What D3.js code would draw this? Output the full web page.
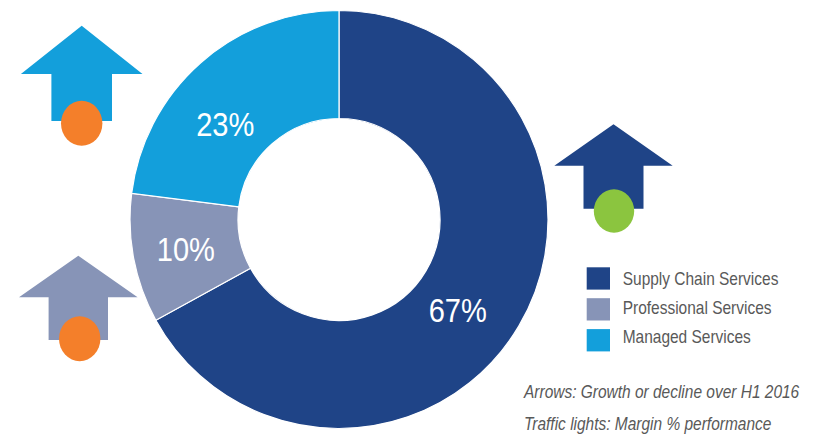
<!DOCTYPE html>
<html>
<head>
<meta charset="utf-8">
<script src="https://cdn.jsdelivr.net/npm/d3@7"></script>
<style>
  html, body { margin: 0; padding: 0; background: #fff; }
  svg { display: block; }
  text { font-family: "Liberation Sans", Arial, sans-serif; }
</style>
</head>
<body>
<svg id="chart" width="813" height="435"></svg>
<script>
// Revenue mix by division
const categories = ["Supply Chain Services", "Professional Services", "Managed Services"];
const shares = [67, 10, 23];
// Arrow direction (growth/decline over H1 2016) and margin traffic light per division
const trends = ["up", "up", "up"];
const marginLights = ["green", "amber", "amber"];
const notes = ["Arrows: Growth or decline over H1 2016", "Traffic lights: Margin % performance"];

const colors = ["#1F4487", "#8794B7", "#139FDB"];
const lightColors = { green: "#8BC53F", amber: "#F47F2A" };

const svg = d3.select("#chart");

// The typeface is a narrow grotesque: draw text horizontally condensed around its anchor
const SQUEEZE = 0.88;
const placeText = (x, y) => `translate(${x},${y}) scale(${SQUEEZE},1)`;

// ---- Doughnut ----
const cx = 339, cy = 219.5, rOuter = 209, rInner = 101;
const pie = d3.pie().sort(null).value(d => d.value);
const arc = d3.arc().innerRadius(rInner).outerRadius(rOuter);
const slices = pie(categories.map((c, i) => ({ name: c, value: shares[i], color: colors[i] })));

const donut = svg.append("g").attr("transform", `translate(${cx},${cy})`);
donut.selectAll("path.slice")
  .data(slices)
  .join("path")
  .attr("class", "slice")
  .attr("d", arc)
  .attr("fill", d => d.data.color)
  .attr("stroke", "#fff")
  .attr("stroke-width", 1.2);

// label nudges from the arc centroid, per slice
const labelNudge = [[-19, 9], [4, 0], [-8, 25]];
const labelArc = d3.arc().innerRadius(rInner + 1).outerRadius(rOuter + 9);
donut.selectAll("text.pct")
  .data(slices)
  .join("text")
  .attr("class", "pct")
  .attr("transform", (d, i) => {
    const c = labelArc.centroid(d);
    return placeText(c[0] + labelNudge[i][0], c[1] + labelNudge[i][1]);
  })
  .attr("dy", "0.36em")
  .attr("text-anchor", "middle")
  .attr("fill", "#fff")
  .attr("font-size", 33)
  .text(d => d.data.value + "%");

// ---- Trend arrows with traffic lights ----
// geometry per division: centre x, tip y, head base y, head half-width, shaft half-width, shaft bottom
const arrowLayout = [
  { x: 613.5, tip: 124.3, base: 165.7, head: 59.2, shaft: 30, bottom: 208.7, light: [614, 211, 20.2, 21.7] },
  { x: 78.3, tip: 255.7, base: 297.3, head: 59.3, shaft: 29.7, bottom: 340, light: [79.7, 338.7, 20.7, 22.5] },
  { x: 81.7, tip: 25.7, base: 74, head: 60.8, shaft: 30.3, bottom: 121, light: [81.7, 123.3, 20.7, 22.5] }
];

function arrowPath(a, dir) {
  const pts = [
    [a.x, a.tip],
    [a.x + a.head, a.base],
    [a.x + a.shaft, a.base],
    [a.x + a.shaft, a.bottom],
    [a.x - a.shaft, a.bottom],
    [a.x - a.shaft, a.base],
    [a.x - a.head, a.base]
  ];
  if (dir === "down") {
    const mid = (a.tip + a.bottom) / 2;
    pts.forEach(p => { p[1] = 2 * mid - p[1]; });
  }
  return d3.line()(pts) + "Z";
}

const arrows = svg.append("g");
categories.forEach((c, i) => {
  const a = arrowLayout[i];
  arrows.append("path")
    .attr("d", arrowPath(a, trends[i]))
    .attr("fill", colors[i]);
  arrows.append("ellipse")
    .attr("cx", a.light[0]).attr("cy", a.light[1])
    .attr("rx", a.light[2]).attr("ry", a.light[3])
    .attr("fill", lightColors[marginLights[i]]);
});

// ---- Legend ----
const legend = svg.append("g").attr("transform", "translate(586.7,267.3)");
const swatchPitch = 30.9, textPitch = 29;
legend.selectAll("rect")
  .data(categories)
  .join("rect")
  .attr("y", (d, i) => i * swatchPitch)
  .attr("width", 23.3).attr("height", 22.3)
  .attr("fill", (d, i) => colors[i]);
legend.selectAll("text")
  .data(categories)
  .join("text")
  .attr("transform", (d, i) => placeText(36, 17.8 + i * textPitch))
  .attr("font-size", 17.6)
  .attr("fill", "#595959")
  .text(d => d);

// ---- Notes ----
svg.append("g")
  .selectAll("text")
  .data(notes)
  .join("text")
  .attr("transform", (d, i) => placeText(524, 398 + i * 31.5))
  .attr("font-size", 17.6)
  .attr("font-style", "italic")
  .attr("fill", "#595959")
  .text(d => d);
</script>
</body>
</html>
